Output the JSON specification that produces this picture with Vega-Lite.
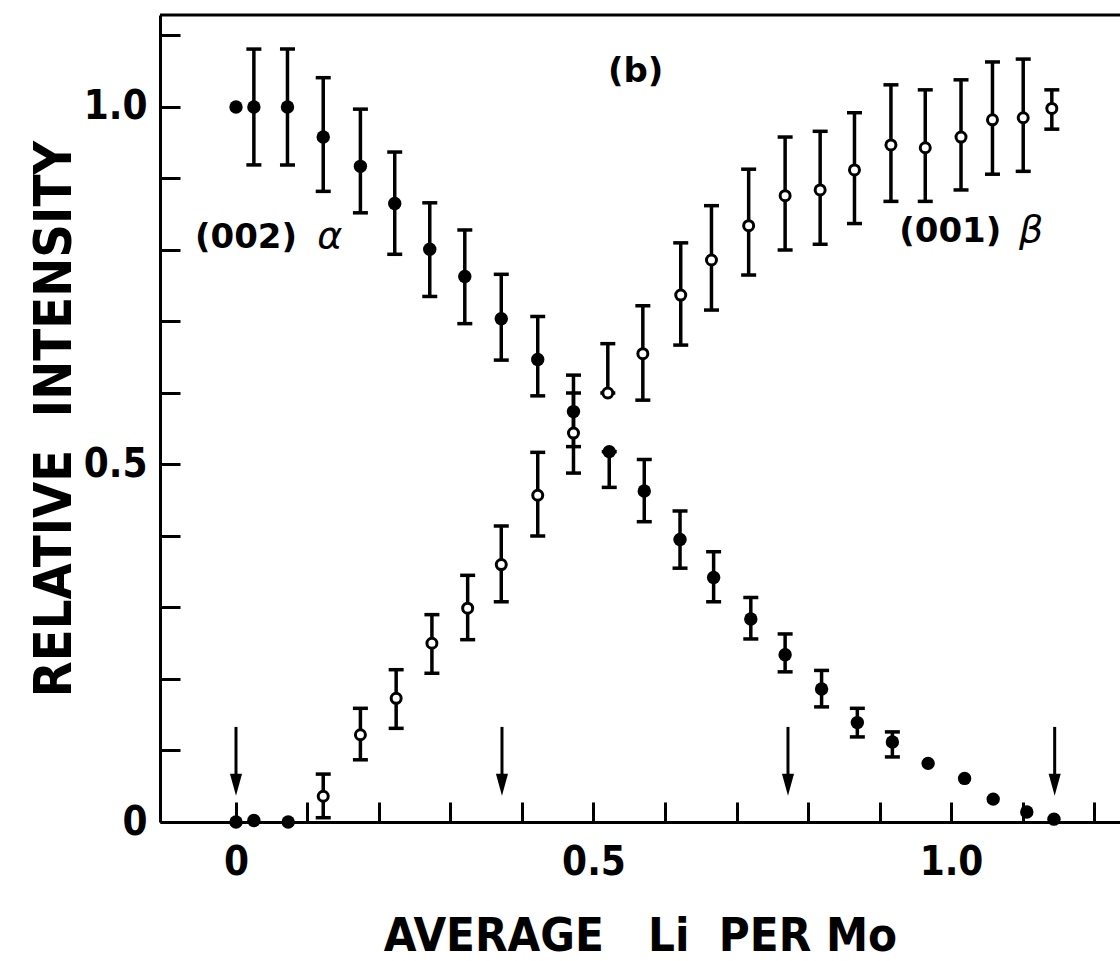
{
  "$schema": "https://vega.github.io/schema/vega-lite/v6.json",
  "width": 960,
  "height": 807,
  "autosize": {"type": "none"},
  "padding": {"left": 160, "top": 15, "right": 0, "bottom": 139},
  "background": "white",
  "config": {"view": {"stroke": null}},
  "datasets": {
    "filled": [
      {"x": 0.000, "y": 1.000},
      {"x": 0.025, "y": 1.000, "lo": 0.919, "hi": 1.081},
      {"x": 0.072, "y": 1.000, "lo": 0.919, "hi": 1.081},
      {"x": 0.122, "y": 0.958, "lo": 0.882, "hi": 1.041},
      {"x": 0.174, "y": 0.917, "lo": 0.852, "hi": 0.997},
      {"x": 0.222, "y": 0.865, "lo": 0.794, "hi": 0.937},
      {"x": 0.271, "y": 0.801, "lo": 0.735, "hi": 0.866},
      {"x": 0.320, "y": 0.763, "lo": 0.697, "hi": 0.828},
      {"x": 0.371, "y": 0.704, "lo": 0.646, "hi": 0.766},
      {"x": 0.422, "y": 0.647, "lo": 0.596, "hi": 0.707},
      {"x": 0.472, "y": 0.574, "lo": 0.525, "hi": 0.625},
      {"x": 0.522, "y": 0.518, "lo": 0.468, "hi": 0.518},
      {"x": 0.571, "y": 0.463, "lo": 0.420, "hi": 0.507},
      {"x": 0.621, "y": 0.395, "lo": 0.355, "hi": 0.435},
      {"x": 0.668, "y": 0.342, "lo": 0.308, "hi": 0.378},
      {"x": 0.720, "y": 0.284, "lo": 0.256, "hi": 0.314},
      {"x": 0.768, "y": 0.234, "lo": 0.210, "hi": 0.263},
      {"x": 0.819, "y": 0.186, "lo": 0.161, "hi": 0.212},
      {"x": 0.869, "y": 0.139, "lo": 0.119, "hi": 0.159},
      {"x": 0.918, "y": 0.112, "lo": 0.091, "hi": 0.126},
      {"x": 0.968, "y": 0.082},
      {"x": 1.019, "y": 0.061},
      {"x": 1.059, "y": 0.032},
      {"x": 1.106, "y": 0.014},
      {"x": 1.144, "y": 0.004},
      {"x": 0.000, "y": 0.000},
      {"x": 0.025, "y": 0.002},
      {"x": 0.073, "y": 0.000}
    ],
    "open": [
      {"x": 0.122, "y": 0.036, "lo": 0.006, "hi": 0.067},
      {"x": 0.174, "y": 0.122, "lo": 0.087, "hi": 0.159},
      {"x": 0.224, "y": 0.173, "lo": 0.131, "hi": 0.213},
      {"x": 0.274, "y": 0.250, "lo": 0.208, "hi": 0.290},
      {"x": 0.324, "y": 0.299, "lo": 0.255, "hi": 0.345},
      {"x": 0.371, "y": 0.360, "lo": 0.308, "hi": 0.414},
      {"x": 0.422, "y": 0.457, "lo": 0.400, "hi": 0.517},
      {"x": 0.472, "y": 0.544, "lo": 0.488, "hi": 0.600},
      {"x": 0.520, "y": 0.600, "lo": 0.600, "hi": 0.669},
      {"x": 0.569, "y": 0.655, "lo": 0.590, "hi": 0.722},
      {"x": 0.622, "y": 0.737, "lo": 0.667, "hi": 0.810},
      {"x": 0.665, "y": 0.786, "lo": 0.716, "hi": 0.862},
      {"x": 0.717, "y": 0.834, "lo": 0.765, "hi": 0.913},
      {"x": 0.768, "y": 0.876, "lo": 0.800, "hi": 0.958},
      {"x": 0.817, "y": 0.884, "lo": 0.808, "hi": 0.966},
      {"x": 0.865, "y": 0.912, "lo": 0.837, "hi": 0.992},
      {"x": 0.916, "y": 0.947, "lo": 0.868, "hi": 1.031},
      {"x": 0.964, "y": 0.943, "lo": 0.868, "hi": 1.024},
      {"x": 1.014, "y": 0.958, "lo": 0.884, "hi": 1.038},
      {"x": 1.058, "y": 0.982, "lo": 0.906, "hi": 1.063},
      {"x": 1.101, "y": 0.985, "lo": 0.910, "hi": 1.067},
      {"x": 1.141, "y": 0.998, "lo": 0.969, "hi": 1.024}
    ],
    "arrows": [
      {"x": 0.000},
      {"x": 0.372},
      {"x": 0.772},
      {"x": 1.145}
    ],
    "labels": [
      {"label": "(b)", "x": 0.559, "y": 1.035},
      {"label": "(002)", "x": 0.014, "y": 0.803},
      {"label": "(001)", "x": 0.999, "y": 0.811}
    ],
    "greek": [
      {"label": "α", "x": 0.131, "y": 0.803},
      {"label": "β", "x": 1.112, "y": 0.811}
    ]
  },
  "layer": [
    {
      "data": {"name": "filled"},
      "transform": [{"filter": "isValid(datum.lo)"}],
      "mark": {"type": "rule", "strokeWidth": 3.5, "color": "black"},
      "encoding": {
        "x": {
          "field": "x", "type": "quantitative",
          "scale": {"domain": [-0.10629, 1.23636], "nice": false, "zero": false},
          "axis": {
            "values": [0, 0.1, 0.2, 0.3, 0.4, 0.5, 0.6, 0.7, 0.8, 0.9, 1, 1.1, 1.2],
            "labelExpr": "datum.value == 0 ? '0' : datum.value == 0.5 ? '0.5' : datum.value == 1 ? '1.0' : ''",
            "grid": false,
            "domainColor": "black", "domainWidth": 3,
            "tickColor": "black", "tickWidth": 3, "tickSize": -20,
            "labelFont": "DejaVu Sans Condensed", "labelFontWeight": "bold", "labelFontSize": 40, "labelColor": "black",
            "labelPadding": 40, "labelFlush": false, "labelOverlap": false,
            "title": "AVERAGE\u00a0\u00a0\u00a0Li\u00a0\u00a0PER\u00a0Mo",
            "titleFont": "DejaVu Sans Condensed", "titleFontWeight": "bold", "titleFontSize": 47, "titleColor": "black",
            "titlePadding": 31
          }
        },
        "y": {
          "field": "lo", "type": "quantitative",
          "scale": {"domain": [0, 1.12867], "nice": false, "zero": false},
          "axis": {
            "values": [0, 0.1, 0.2, 0.3, 0.4, 0.5, 0.6, 0.7, 0.8, 0.9, 1, 1.1],
            "labelExpr": "datum.value == 0 ? '0' : datum.value == 0.5 ? '0.5' : datum.value == 1 ? '1.0' : ''",
            "grid": false,
            "domainColor": "black", "domainWidth": 3,
            "tickColor": "black", "tickWidth": 3, "tickSize": -20,
            "labelFont": "DejaVu Sans Condensed", "labelFontWeight": "bold", "labelFontSize": 40, "labelColor": "black",
            "labelPadding": 33, "labelFlush": false, "labelOverlap": false,
            "title": "RELATIVE\u00a0\u00a0INTENSITY",
            "titleFont": "DejaVu Sans Condensed", "titleFontWeight": "bold", "titleFontSize": 52, "titleColor": "black",
            "titlePadding": 2
          }
        },
        "y2": {"field": "hi"}
      }
    },
    {
      "data": {"name": "filled"},
      "transform": [{"filter": "isValid(datum.lo)"}],
      "mark": {"type": "tick", "orient": "horizontal", "size": 15, "thickness": 3.5, "color": "black", "opacity": 1},
      "encoding": {"x": {"field": "x", "type": "quantitative"}, "y": {"field": "lo", "type": "quantitative"}}
    },
    {
      "data": {"name": "filled"},
      "transform": [{"filter": "isValid(datum.lo)"}],
      "mark": {"type": "tick", "orient": "horizontal", "size": 15, "thickness": 3.5, "color": "black", "opacity": 1},
      "encoding": {"x": {"field": "x", "type": "quantitative"}, "y": {"field": "hi", "type": "quantitative"}}
    },
    {
      "data": {"name": "open"},
      "mark": {"type": "rule", "strokeWidth": 3.5, "color": "black"},
      "encoding": {"x": {"field": "x", "type": "quantitative"}, "y": {"field": "lo", "type": "quantitative"}, "y2": {"field": "hi"}}
    },
    {
      "data": {"name": "open"},
      "mark": {"type": "tick", "orient": "horizontal", "size": 15, "thickness": 3.5, "color": "black", "opacity": 1},
      "encoding": {"x": {"field": "x", "type": "quantitative"}, "y": {"field": "lo", "type": "quantitative"}}
    },
    {
      "data": {"name": "open"},
      "mark": {"type": "tick", "orient": "horizontal", "size": 15, "thickness": 3.5, "color": "black", "opacity": 1},
      "encoding": {"x": {"field": "x", "type": "quantitative"}, "y": {"field": "hi", "type": "quantitative"}}
    },
    {
      "data": {"name": "filled"},
      "mark": {"type": "point", "shape": "circle", "filled": true, "size": 180, "color": "black", "opacity": 1},
      "encoding": {"x": {"field": "x", "type": "quantitative"}, "y": {"field": "y", "type": "quantitative"}}
    },
    {
      "data": {"name": "open"},
      "mark": {"type": "point", "shape": "circle", "filled": false, "fill": "white", "fillOpacity": 1, "stroke": "black", "strokeWidth": 3, "size": 100, "opacity": 1},
      "encoding": {"x": {"field": "x", "type": "quantitative"}, "y": {"field": "y", "type": "quantitative"}}
    },
    {
      "data": {"name": "arrows"},
      "mark": {"type": "rule", "strokeWidth": 3, "color": "black"},
      "encoding": {"x": {"field": "x", "type": "quantitative"}, "y": {"datum": 0.133}, "y2": {"datum": 0.06}}
    },
    {
      "data": {"name": "arrows"},
      "mark": {"type": "point", "shape": "M-0.55,-1L0.55,-1L0,1Z", "filled": true, "size": 484, "color": "black", "opacity": 1},
      "encoding": {"x": {"field": "x", "type": "quantitative"}, "y": {"datum": 0.052}}
    },
    {
      "data": {"name": "labels"},
      "mark": {"type": "text", "font": "DejaVu Sans", "fontWeight": "bold", "fontSize": 34, "baseline": "alphabetic", "align": "center", "color": "black"},
      "encoding": {"x": {"field": "x", "type": "quantitative"}, "y": {"field": "y", "type": "quantitative"}, "text": {"field": "label"}}
    },
    {
      "data": {"name": "greek"},
      "mark": {"type": "text", "font": "DejaVu Sans", "fontStyle": "italic", "fontSize": 38, "baseline": "alphabetic", "align": "center", "color": "black"},
      "encoding": {"x": {"field": "x", "type": "quantitative"}, "y": {"field": "y", "type": "quantitative"}, "text": {"field": "label"}}
    },
    {
      "data": {"values": [{}]},
      "mark": {"type": "rule", "strokeWidth": 3, "color": "black"},
      "encoding": {"y": {"datum": 1.12867}}
    }
  ]
}
